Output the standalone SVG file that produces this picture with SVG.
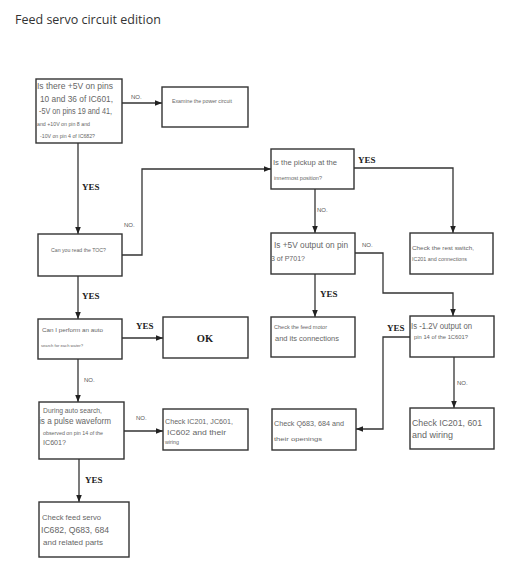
<svg xmlns="http://www.w3.org/2000/svg" width="532" height="571" viewBox="0 0 532 571">
<style>
.box{fill:#fff;stroke:#333;stroke-width:1.4}
.ln{fill:none;stroke:#333;stroke-width:1.3;marker-end:url(#ah)}
.t{font-family:"Liberation Sans",Arial,sans-serif;fill:#666}
.yes{font-family:"Liberation Serif","DejaVu Serif",serif;font-weight:bold;font-size:9px;fill:#222}
.no{font-family:"Liberation Sans",Arial,sans-serif;font-size:6px;fill:#555}
</style>
<defs>
<marker id="ah" viewBox="0 0 10 10" refX="10" refY="5" markerWidth="7" markerHeight="7" markerUnits="userSpaceOnUse" orient="auto">
<path d="M0,1 L10,5 L0,9 z" fill="#222"/>
</marker>
</defs>
<rect width="532" height="571" fill="#fff"/>
<text x="15" y="24" style="font-family:'Open Sans','Liberation Sans',sans-serif;font-size:12.5px;fill:#333">Feed servo circuit edition</text>

<g id="connectors">
<line class="ln" x1="122" y1="103" x2="162" y2="103"/>
<line class="ln" x1="78" y1="143" x2="78" y2="234"/>
<polyline class="ln" points="122,255 142,255 142,169 271,169"/>
<line class="ln" x1="78" y1="276" x2="78" y2="319"/>
<line class="ln" x1="122" y1="338" x2="163" y2="338"/>
<line class="ln" x1="78" y1="359" x2="78" y2="402"/>
<line class="ln" x1="124" y1="431" x2="163" y2="431"/>
<line class="ln" x1="79" y1="459" x2="79" y2="502"/>
<polyline class="ln" points="354,168 453,168 453,233"/>
<line class="ln" x1="315" y1="189" x2="315" y2="233"/>
<polyline class="ln" points="355,253 383,253 383,293 453,293 453,316"/>
<line class="ln" x1="315" y1="274" x2="315" y2="317"/>
<polyline class="ln" points="410,337 383,337 383,429 356,429"/>
<line class="ln" x1="454" y1="357" x2="454" y2="408"/>
<text class="no" x="131" y="99">NO.</text>
<text class="yes" x="82" y="190">YES</text>
<text class="no" x="124" y="227">NO.</text>
<text class="yes" x="82" y="299">YES</text>
<text class="yes" x="136" y="329">YES</text>
<text class="no" x="84" y="382">NO.</text>
<text class="no" x="136" y="420">NO.</text>
<text class="yes" x="85" y="483">YES</text>
<text class="yes" x="358" y="163">YES</text>
<text class="no" x="317" y="212">NO.</text>
<text class="no" x="362" y="247">NO.</text>
<text class="yes" x="320" y="297">YES</text>
<text class="yes" x="387" y="331">YES</text>
<text class="no" x="457" y="385">NO.</text>
</g>

<g id="n1">
<rect class="box" x="36" y="79" width="86" height="64"/>
<text class="t" x="37" y="89" font-size="8.8" textLength="76" lengthAdjust="spacingAndGlyphs">Is there +5V on pins</text>
<text class="t" x="40" y="102" font-size="9.5" textLength="73" lengthAdjust="spacingAndGlyphs">10 and 36 of IC601,</text>
<text class="t" x="39" y="114" font-size="8.5" textLength="73" lengthAdjust="spacingAndGlyphs">-5V on pins 19 and 41,</text>
<text class="t" x="37" y="126" font-size="5.3" textLength="53" lengthAdjust="spacingAndGlyphs">and +10V on pin 8 and</text>
<text class="t" x="40" y="138" font-size="5.3" textLength="55" lengthAdjust="spacingAndGlyphs">-10V on pin 4 of IC682?</text>
</g>
<g id="n2">
<rect class="box" x="162" y="87" width="86" height="40"/>
<text class="t" x="172" y="103" font-size="5.3" textLength="60" lengthAdjust="spacingAndGlyphs">Examine the power circuit</text>
</g>
<g id="n3">
<rect class="box" x="38" y="234" width="84" height="42"/>
<text class="t" x="51" y="252" font-size="5.3" textLength="55" lengthAdjust="spacingAndGlyphs">Can you read the TOC?</text>
</g>
<g id="n4">
<rect class="box" x="38" y="319" width="84" height="40"/>
<text class="t" x="42" y="332" font-size="6" textLength="61" lengthAdjust="spacingAndGlyphs">Can I perform an auto</text>
<text class="t" x="41" y="347" font-size="4.3" textLength="42" lengthAdjust="spacingAndGlyphs">search for each water?</text>
</g>
<g id="n5">
<rect class="box" x="163" y="317" width="85" height="41"/>
<text x="205" y="342" text-anchor="middle" style="font-family:'Liberation Serif',serif;font-weight:bold;font-size:10.5px;fill:#222">OK</text>
</g>
<g id="n6">
<rect class="box" x="39" y="402" width="85" height="57"/>
<text class="t" x="43" y="413" font-size="6.3" textLength="59" lengthAdjust="spacingAndGlyphs">During auto search,</text>
<text class="t" x="39" y="424" font-size="8.5" textLength="72" lengthAdjust="spacingAndGlyphs">is a pulse waveform</text>
<text class="t" x="43" y="435" font-size="4.8" textLength="60" lengthAdjust="spacingAndGlyphs">observed on pin 14 of the</text>
<text class="t" x="43" y="445" font-size="6.5" textLength="23" lengthAdjust="spacingAndGlyphs">IC601?</text>
</g>
<g id="n7">
<rect class="box" x="163" y="409" width="85" height="41"/>
<text class="t" x="165" y="424" font-size="8" textLength="68" lengthAdjust="spacingAndGlyphs">Check IC201, JC601,</text>
<text class="t" x="167" y="435" font-size="8" textLength="59" lengthAdjust="spacingAndGlyphs">IC602 and their</text>
<text class="t" x="165" y="444" font-size="4.5" textLength="14" lengthAdjust="spacingAndGlyphs">wiring</text>
</g>
<g id="n8">
<rect class="box" x="39" y="502" width="90" height="55"/>
<text class="t" x="42" y="520" font-size="7.3" textLength="59" lengthAdjust="spacingAndGlyphs">Check feed servo</text>
<text class="t" x="41" y="533" font-size="9.5" textLength="68" lengthAdjust="spacingAndGlyphs">IC682, Q683, 684</text>
<text class="t" x="43" y="545" font-size="7.8" textLength="60" lengthAdjust="spacingAndGlyphs">and related parts</text>
</g>
<g id="n9">
<rect class="box" x="271" y="149" width="83" height="40"/>
<text class="t" x="273" y="165" font-size="7.3" textLength="64" lengthAdjust="spacingAndGlyphs">Is the pickup at the</text>
<text class="t" x="274" y="180" font-size="4.8" textLength="48" lengthAdjust="spacingAndGlyphs">innermost position?</text>
</g>
<g id="n10">
<rect class="box" x="271" y="233" width="84" height="41"/>
<text class="t" x="274" y="248" font-size="8.3" textLength="74" lengthAdjust="spacingAndGlyphs">Is +5V output on pin</text>
<text class="t" x="271" y="261" font-size="7.8" textLength="34" lengthAdjust="spacingAndGlyphs">3 of P701?</text>
</g>
<g id="n11">
<rect class="box" x="410" y="233" width="83" height="41"/>
<text class="t" x="412" y="250" font-size="5.8" textLength="62" lengthAdjust="spacingAndGlyphs">Check the rest switch,</text>
<text class="t" x="412" y="261" font-size="4.8" textLength="55" lengthAdjust="spacingAndGlyphs">IC201 and connections</text>
</g>
<g id="n12">
<rect class="box" x="271" y="317" width="84" height="40"/>
<text class="t" x="274" y="329" font-size="4.8" textLength="53" lengthAdjust="spacingAndGlyphs">Check the feed motor</text>
<text class="t" x="275" y="341" font-size="7" textLength="64" lengthAdjust="spacingAndGlyphs">and its connections</text>
</g>
<g id="n13">
<rect class="box" x="410" y="316" width="84" height="41"/>
<text class="t" x="411" y="329" font-size="8.3" textLength="61" lengthAdjust="spacingAndGlyphs">Is -1.2V output on</text>
<text class="t" x="414" y="339" font-size="5.8" textLength="54" lengthAdjust="spacingAndGlyphs">pin 14 of the 1C601?</text>
</g>
<g id="n14">
<rect class="box" x="272" y="409" width="84" height="41"/>
<text class="t" x="274" y="426" font-size="6.3" textLength="70" lengthAdjust="spacingAndGlyphs">Check Q683, 684 and</text>
<text class="t" x="274" y="441" font-size="6" textLength="48" lengthAdjust="spacingAndGlyphs">their openings</text>
</g>
<g id="n15">
<rect class="box" x="410" y="408" width="84" height="41"/>
<text class="t" x="412" y="426" font-size="9.5" textLength="70" lengthAdjust="spacingAndGlyphs">Check IC201, 601</text>
<text class="t" x="412" y="438" font-size="9" textLength="41" lengthAdjust="spacingAndGlyphs">and wiring</text>
</g>
</svg>
